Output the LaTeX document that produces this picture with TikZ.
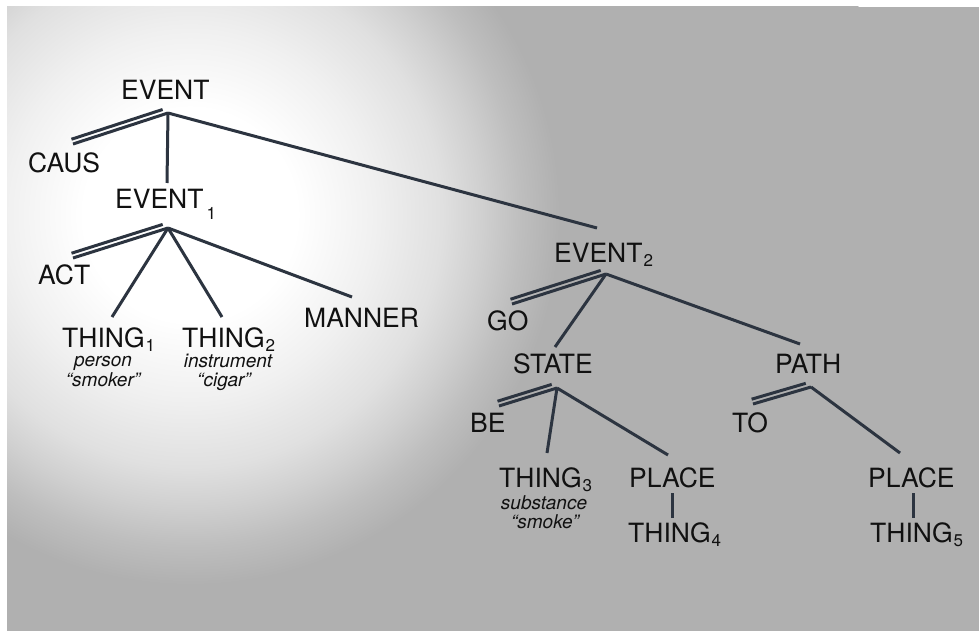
\documentclass[tikz,border=0pt]{standalone}
\usepackage{fontspec}
\setmainfont{TeX Gyre Heros}
\usetikzlibrary{calc}
\definecolor{bggray}{RGB}{176,176,176}
\definecolor{linecol}{RGB}{44,52,64}
\definecolor{txt}{RGB}{17,17,17}
\definecolor{g1}{RGB}{240,240,240}
\definecolor{g2}{RGB}{224,224,224}
\definecolor{g3}{RGB}{208,208,208}
\definecolor{g4}{RGB}{190,190,190}
\pgfdeclareradialshading{bgglow}{\pgfpoint{0bp}{0bp}}{color(0bp)=(white); color(3.8bp)=(white); color(6.6bp)=(g1); color(9bp)=(g2); color(10.4bp)=(g3); color(11.8bp)=(g4); color(13.2bp)=(bggray); color(50bp)=(bggray)}
\newcommand{\sbs}[1]{\hspace{1pt}\raisebox{-4pt}{\fontsize{17}{17}\selectfont #1}}
\newcommand{\sbl}[1]{\hspace{3pt}\raisebox{-11pt}{\fontsize{17}{17}\selectfont #1}}
\newcommand{\dbl}[2]{\draw[conn] (#1) -- (#2); \draw[conn, shorten >=4pt] ($(#1)!5pt!90:(#2)$) -- ($(#2)!5pt!-90:(#1)$);}
\begin{document}
\begin{tikzpicture}[x=1pt,y=-1pt,
  lbl/.style={anchor=base west, inner sep=0pt, font=\fontsize{26.5}{28}\selectfont, text=txt},
  note/.style={anchor=base, inner sep=0pt, font=\fontsize{19}{20}\selectfont\itshape, text=txt},
  conn/.style={draw=linecol, line width=3pt},
]
\useasboundingbox (0,0) rectangle (979,631);
\fill[white] (0,0) rectangle (979,631);
\fill[bggray] (7,7) rectangle (979,631);
\begin{scope}
\clip (7,7) rectangle (979,631);
\shade[shading=bgglow] (190,215) circle (700pt);
\end{scope}

% labels
\node[lbl] (ev) at (121,100) {EVENT};
\node[lbl] (caus) at (28,172) {CAUS};
\node[lbl] (ev1) at (115,208) {EVENT\sbl{1}};
\node[lbl] (act) at (38,284) {ACT};
\node[lbl] (th1) at (62,347) {THING\sbs{1}};
\node[note] (th1a) at (103,366) {person};
\node[note] (th1b) at (103,386) {“smoker”};
\node[lbl] (th2) at (182,347) {THING\sbs{2}};
\node[note] (th2a) at (228,367) {instrument};
\node[note] (th2b) at (224,386) {“cigar”};
\node[lbl] (man) at (304,327) {MANNER};
\node[lbl] (ev2) at (554,262) {EVENT\sbs{2}};
\node[lbl] (go) at (487,330) {GO};
\node[lbl] (st) at (513,373) {STATE};
\node[lbl] (pa) at (775,373) {PATH};
\node[lbl] (be) at (470,432) {BE};
\node[lbl] (to) at (732,432) {TO};
\node[lbl] (th3) at (499,487) {THING\sbs{3}};
\node[note] (th3a) at (544,509) {substance};
\node[note] (th3b) at (545,528) {“smoke”};
\node[lbl] (plL) at (629,487) {PLACE};
\node[lbl] (th4) at (628,542) {THING\sbs{4}};
\node[lbl] (plR) at (868,487) {PLACE};
\node[lbl] (th5) at (870,542) {THING\sbs{5}};

% connection points
\coordinate (ev-j) at (168,113);
\coordinate (caus-t) at (73,144);
\coordinate (ev1-t) at (167,183);
\coordinate (ev2-t) at (597,228);
\coordinate (ev1-j) at (168,228);
\coordinate (act-t) at (73,258);
\coordinate (th1-t) at (112,317);
\coordinate (th2-t) at (222,317);
\coordinate (man-t) at (352,297);
\coordinate (ev2-j) at (606,274);
\coordinate (go-t) at (512,304);
\coordinate (st-t) at (555,347);
\coordinate (pa-t) at (800,344);
\coordinate (st-j) at (557,388);
\coordinate (be-t) at (499,406);
\coordinate (th3-t) at (547,453);
\coordinate (plL-t) at (668,455);
\coordinate (pa-j) at (811,387);
\coordinate (to-t) at (753,404);
\coordinate (plR-t) at (900,453);
\coordinate (plL-b) at (672,493);
\coordinate (th4-t) at (672,518);
\coordinate (plR-b) at (913,493);
\coordinate (th5-t) at (913,518);

% connectors
\dbl{caus-t}{ev-j}
\draw[conn] (ev-j) -- (ev1-t);
\draw[conn] (ev-j) -- (ev2-t);
\dbl{act-t}{ev1-j}
\draw[conn] (ev1-j) -- (th1-t);
\draw[conn] (ev1-j) -- (th2-t);
\draw[conn] (ev1-j) -- (man-t);
\dbl{go-t}{ev2-j}
\draw[conn] (ev2-j) -- (st-t);
\draw[conn] (ev2-j) -- (pa-t);
\dbl{be-t}{st-j}
\draw[conn] (st-j) -- (th3-t);
\draw[conn] (st-j) -- (plL-t);
\dbl{to-t}{pa-j}
\draw[conn] (pa-j) -- (plR-t);
\draw[conn] (plL-b) -- (th4-t);
\draw[conn] (plR-b) -- (th5-t);
\end{tikzpicture}
\end{document}
